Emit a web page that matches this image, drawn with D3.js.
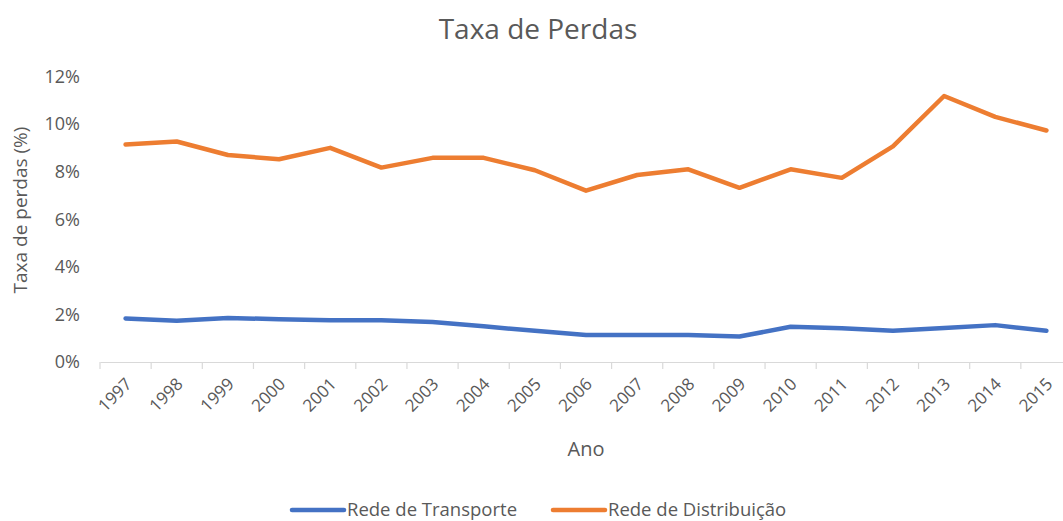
<!DOCTYPE html>
<html>
<head>
<meta charset="utf-8">
<script src="https://cdn.jsdelivr.net/npm/d3@7"></script>
<style>
  html, body { margin: 0; padding: 0; background: #fff; }
  svg { display: block; }
  text { font-family: "Open Sans", "Noto Sans", sans-serif; fill: #595959; }
</style>
</head>
<body>
<script>
const years = ["1997","1998","1999","2000","2001","2002","2003","2004","2005","2006","2007","2008","2009","2010","2011","2012","2013","2014","2015"];
const transporte = [1.83,1.73,1.85,1.80,1.75,1.75,1.68,1.50,1.31,1.13,1.13,1.13,1.07,1.48,1.42,1.31,1.43,1.55,1.31];
const distribuicao = [9.14,9.27,8.70,8.52,9.00,8.17,8.58,8.58,8.06,7.20,7.86,8.10,7.32,8.10,7.74,9.06,11.18,10.30,9.73];
const yTicks = [0,2,4,6,8,10,12];
const seriesNames = ["Rede de Transporte","Rede de Distribuição"];
const seriesColors = ["#4472C4","#ED7D31"];

const W = 1063, H = 521;
const svg = d3.select("body").append("svg").attr("width", W).attr("height", H);

const x = d3.scaleBand().domain(years).range([100, 1072]);
const y = d3.scaleLinear().domain([0, 12]).range([362, 76.5]);

// title
svg.append("text").attr("x", 538).attr("y", 39).attr("text-anchor", "middle")
  .style("font-size", "28px").text("Taxa de Perdas");

// y axis labels
const yAxis = d3.axisLeft(y).tickValues(yTicks).tickFormat(d => d + "%").tickSize(0).tickPadding(0);
const gy = svg.append("g").attr("transform", "translate(80,0)").call(yAxis);
gy.select(".domain").remove();
gy.selectAll("text").style("font-size", "18px").attr("fill", "#595959");

// x axis
const xAxis = d3.axisBottom(x).tickSize(0).tickFormat(d => d);
const gx = svg.append("g").attr("transform", "translate(0,362)").call(xAxis);
gx.select(".domain").attr("stroke", "#d9d9d9").attr("stroke-width", 1.2);
// tick marks between categories
const bounds = years.map(d => x(d)).concat([x(years[years.length-1]) + x.bandwidth()]);
gx.selectAll("line.sep").data(bounds).enter().append("line").attr("class","sep")
  .attr("x1", d => d).attr("x2", d => d).attr("y1", 0).attr("y2", 7)
  .attr("stroke", "#d9d9d9").attr("stroke-width", 1.2);
gx.selectAll(".tick text")
  .style("font-size", "17px")
  .attr("fill", "#595959")
  .attr("text-anchor", "end")
  .attr("dy", "0.35em")
  .attr("transform", "translate(3,19) rotate(-45)")
  .attr("x", 0).attr("y", 0);

// axis titles
svg.append("text").attr("x", 586).attr("y", 456).attr("text-anchor", "middle")
  .style("font-size", "20px").text("Ano");
svg.append("text").attr("transform", "translate(27,210) rotate(-90)").attr("text-anchor", "middle")
  .style("font-size", "19px").text("Taxa de perdas (%)");

// lines
const line = d3.line().x((d, i) => x(years[i]) + x.bandwidth()/2).y(d => y(d));
[transporte, distribuicao].forEach((s, k) => {
  svg.append("path").datum(s).attr("d", line).attr("fill", "none")
    .attr("stroke", seriesColors[k]).attr("stroke-width", 4.5)
    .attr("stroke-linejoin", "round").attr("stroke-linecap", "round");
});

// legend
const legendX = [292, 553];
seriesNames.forEach((name, k) => {
  const g = svg.append("g").attr("transform", "translate(" + legendX[k] + ",510)");
  g.append("line").attr("x1", 0).attr("x2", 52).attr("y1", 0).attr("y2", 0)
    .attr("stroke", seriesColors[k]).attr("stroke-width", 4.5).attr("stroke-linecap", "round");
  g.append("text").attr("x", 55).attr("y", 0).attr("dy", "0.35em")
    .style("font-size", "18.5px").text(name);
});
</script>
</body>
</html>
